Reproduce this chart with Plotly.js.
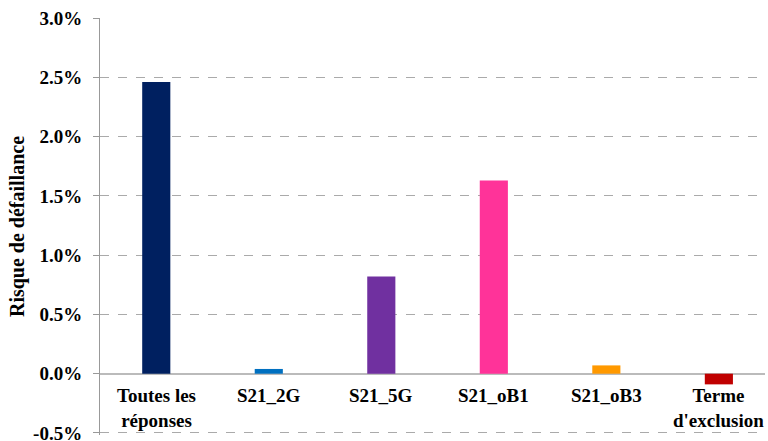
<!DOCTYPE html>
<html><head><meta charset="utf-8">
<script src="https://cdn.plot.ly/plotly-3.0.1.min.js"></script>
<style>html,body{margin:0;padding:0;background:#fff}#c{width:768px;height:441px}</style>
</head><body><div id="c"></div>
<script>
var categories = ["Toutes les<br>réponses", "S21_2G", "S21_5G", "S21_oB1", "S21_oB3", "Terme<br>d'exclusion"];
var values = [2.46, 0.04, 0.82, 1.63, 0.07, -0.09];
var colors = ["#002060", "#0070C0", "#7030A0", "#FF3399", "#FF9900", "#C00000"];
var yTickVals = [-0.5, 0, 0.5, 1.0, 1.5, 2.0, 2.5, 3.0];
var yTickText = ["-0.5%", "0.0%", "0.5%", "1.0%", "1.5%", "2.0%", "2.5%", "3.0%"];

var fam = "Liberation Serif";
var trace = {
  type: "bar", x: categories, y: values,
  marker: {color: colors},
  hoverinfo: "none"
};
var labels = categories.map(function (c) {
  return {
    x: c, y: 0, xref: "x", yref: "y",
    text: c, showarrow: false,
    xanchor: "center", yanchor: "top", yshift: -9,
    font: {family: fam, size: 19, color: "#000", weight: "bold"}
  };
});
var layout = {
  width: 768, height: 441,
  margin: {l: 100, r: 3, t: 18, b: 6},
  paper_bgcolor: "#fff", plot_bgcolor: "#fff",
  bargap: 0.75,
  showlegend: false,
  xaxis: {
    type: "category", range: [-0.5, 5.41],
    showline: false, ticks: "", showgrid: false, showticklabels: false, zeroline: false
  },
  yaxis: {
    range: [-0.517, 3.0],
    tickvals: yTickVals, ticktext: yTickText,
    tickfont: {family: fam, size: 19, color: "#000", weight: "bold"},
    ticklabeloverflow: "allow", ticklabelstandoff: 7,
    showline: true, linecolor: "#999", linewidth: 1,
    ticks: "outside", ticklen: 6, tickcolor: "#999",
    showgrid: true, gridcolor: "#aaa", griddash: "dash", gridwidth: 1,
    zeroline: true, zerolinecolor: "#bbb", zerolinewidth: 2,
    title: {text: "Risque de défaillance", font: {family: fam, size: 20, color: "#000", weight: "bold"}, standoff: 3}
  },
  annotations: labels
};
Plotly.newPlot("c", [trace], layout, {staticPlot: true, displayModeBar: false});
</script></body></html>
